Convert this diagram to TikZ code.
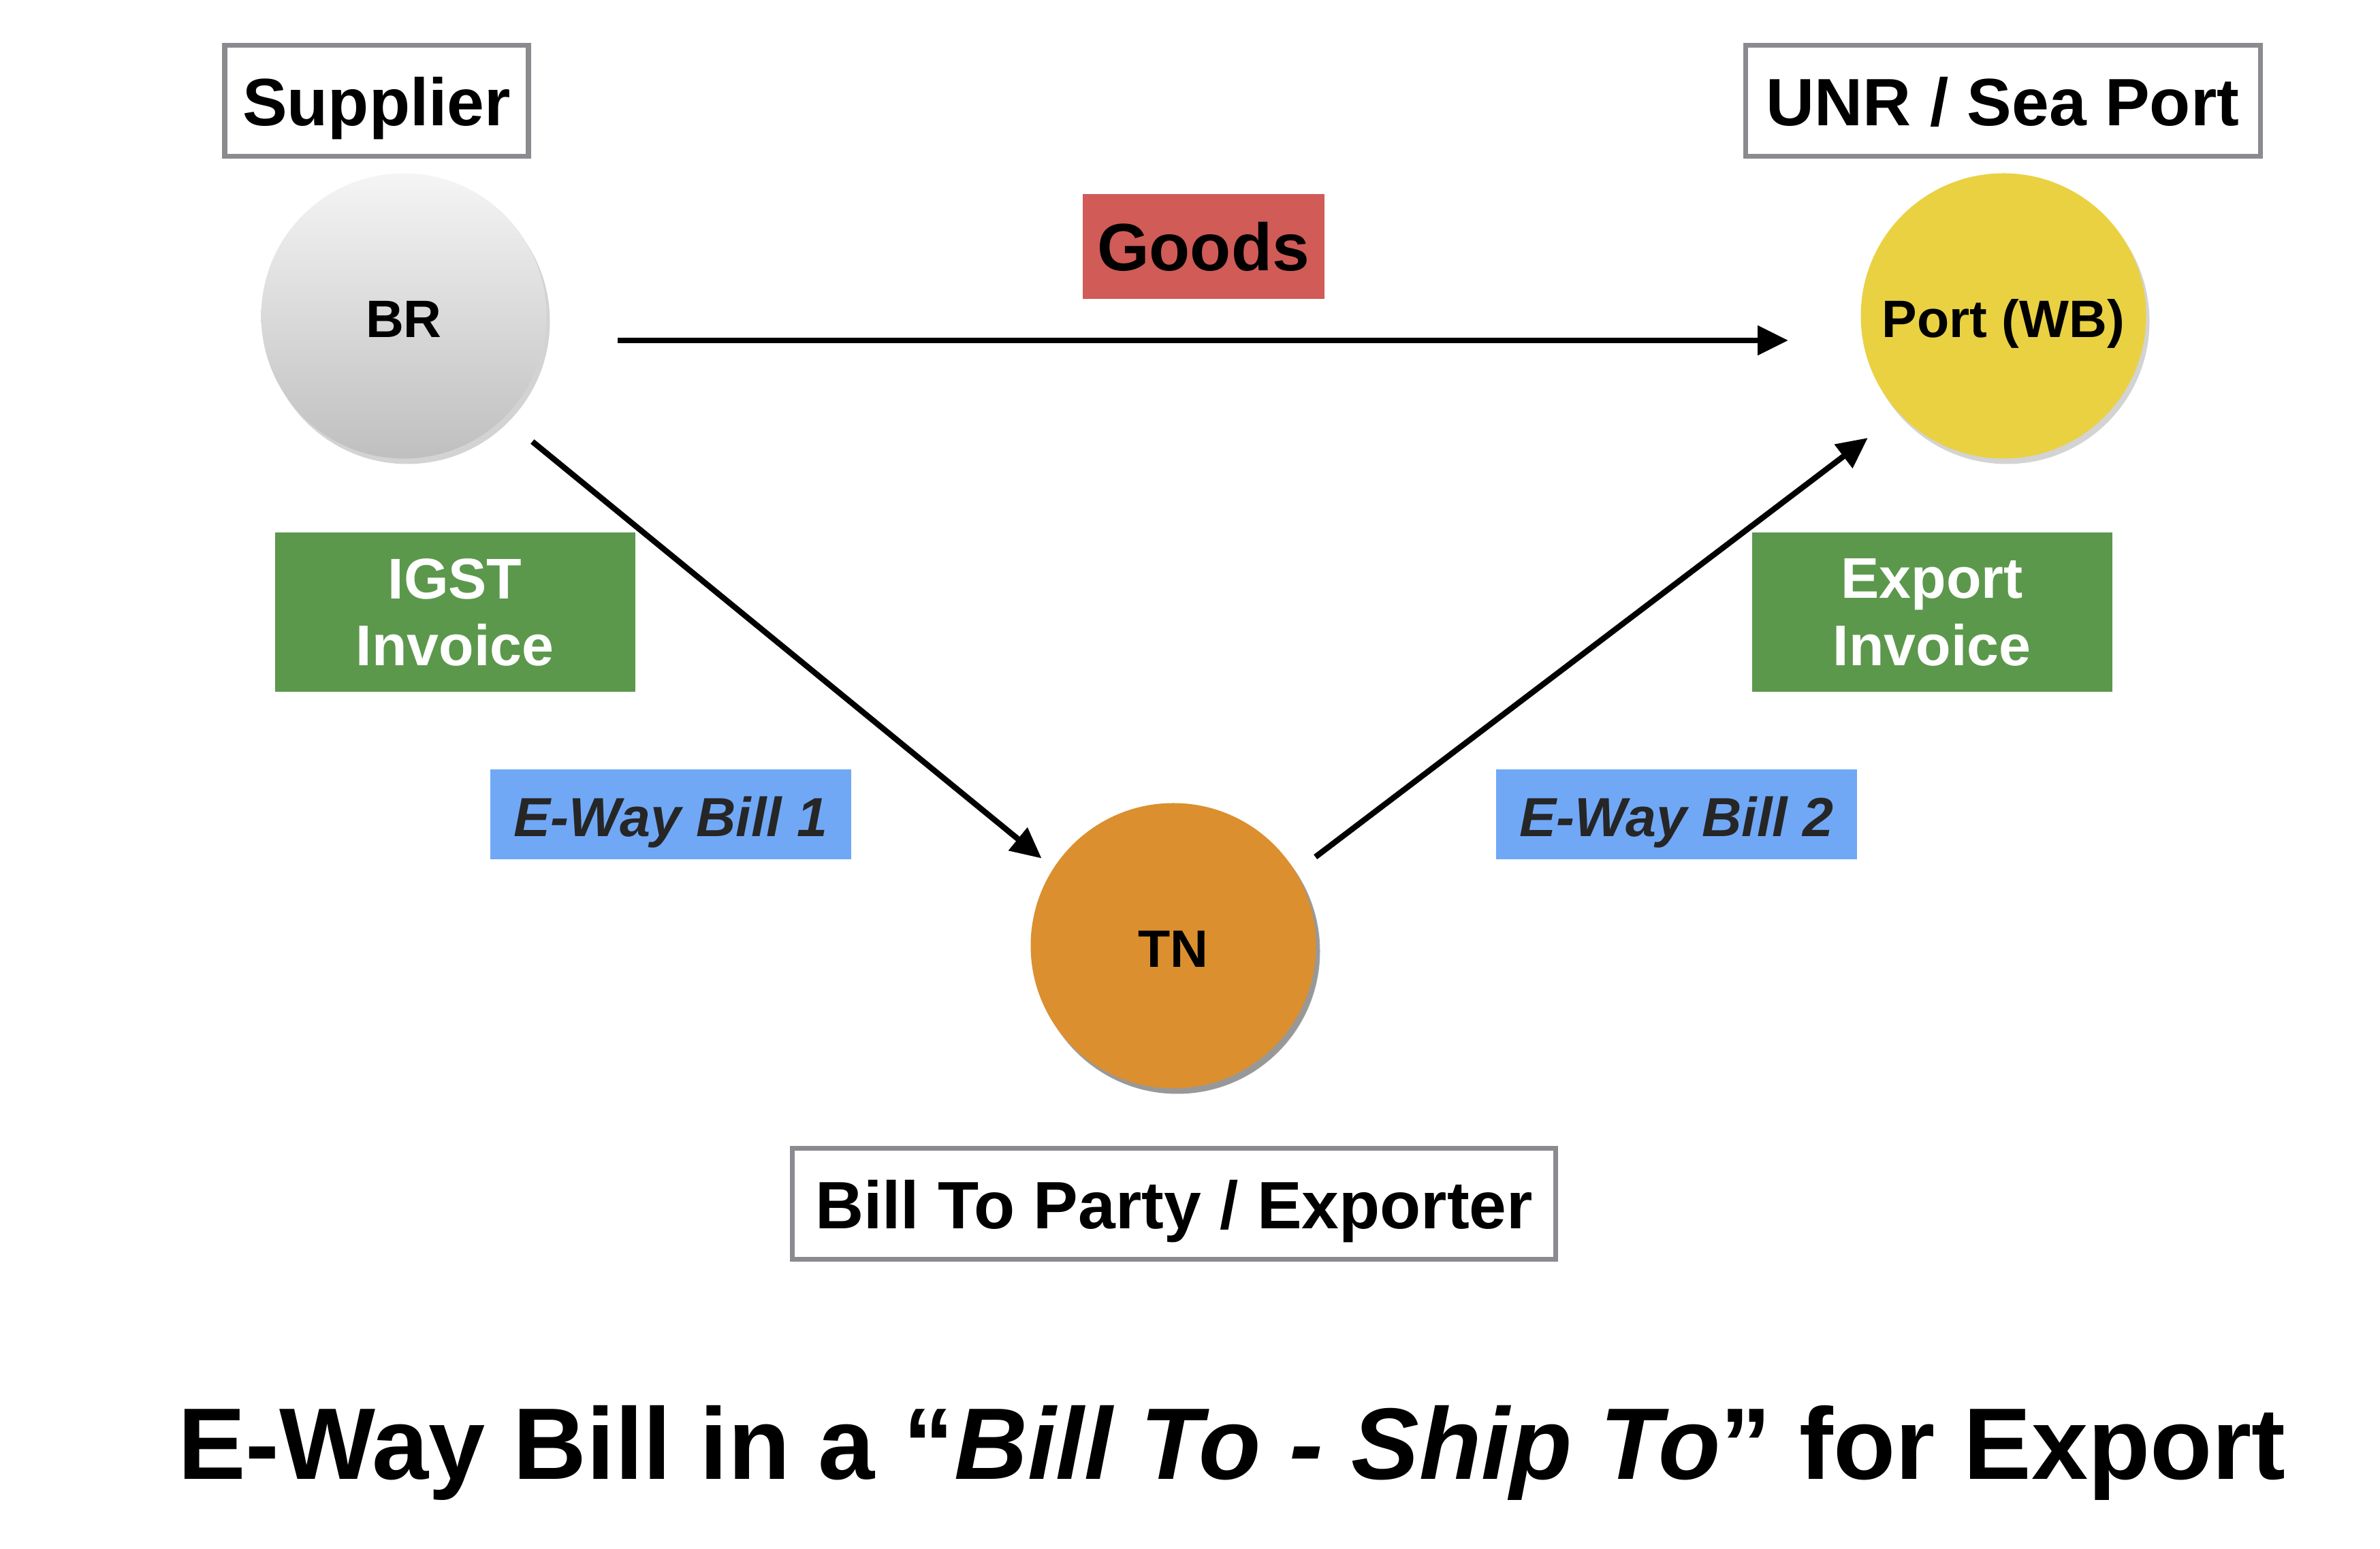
\documentclass[tikz,border=0pt]{standalone}
\usepackage{fontspec}
\setmainfont{Liberation Sans}
\usetikzlibrary{arrows.meta,shadows}

\definecolor{framegray}{RGB}{139,139,143}
\definecolor{goodsred}{RGB}{208,91,87}
\definecolor{invgreen}{RGB}{91,152,76}
\definecolor{billblue}{RGB}{112,168,246}
\definecolor{tnorange}{RGB}{219,143,47}
\definecolor{portyellow}{RGB}{233,209,66}

\tikzset{
  place/.style={draw=framegray, line width=2pt, fill=white, minimum height=1.63cm, inner sep=0pt,
    text height=25.2pt, text depth=4.5pt, font=\fontsize{28}{34}\selectfont\bfseries},
  state/.style={circle, minimum size=4.19cm, inner sep=0pt, text height=18.5pt, text depth=0.5pt,
    font=\fontsize{22}{26}\selectfont\bfseries,
    drop shadow={shadow xshift=0.05cm, shadow yshift=-0.08cm, opacity=0.35}},
  invoice/.style={fill=invgreen, text=white, minimum width=5.29cm, minimum height=2.34cm, inner sep=0pt,
    align=center, text depth=0pt, font=\fontsize{24}{28}\selectfont\bfseries},
  ewb/.style={fill=billblue, text=black!85, minimum width=5.3cm, minimum height=1.32cm, inner sep=0pt,
    text height=21.9pt, text depth=3.5pt, font=\fontsize{23}{28}\selectfont\bfseries\itshape},
  flow/.style={line width=2.4pt, -{Triangle[length=0.45cm,width=0.42cm]}}
}

\begin{document}
\begin{tikzpicture}
\useasboundingbox (0,0) rectangle (34.95,22.75);

\node[place, minimum width=4.46cm] (supplier) at (5.53,21.27) {Supplier};
\node[place, minimum width=7.56cm] (seaport) at (29.41,21.27) {UNR / Sea Port};
\node[place, minimum width=11.21cm] (exporter) at (17.24,5.07) {Bill To Party / Exporter};

\node[state, top color=gray!8, bottom color=gray!50] (BR) at (5.93,18.11) {BR};
\node[state, fill=portyellow] (WB) at (29.42,18.11) {Port (WB)};
\node[state, fill=tnorange, drop shadow={shadow xshift=0.06cm, shadow yshift=-0.08cm, opacity=0.7}] (TN) at (17.23,8.86) {TN};

\node[fill=goodsred, minimum width=3.55cm, minimum height=1.54cm, inner sep=0pt,
  font=\fontsize{28}{34}\selectfont\bfseries] (goods) at (17.67,19.13) {Goods};

\node[invoice] (igst) at (6.68,13.76) {IGST\\Invoice};
\node[invoice] (export) at (28.37,13.76) {Export\\Invoice};

\node[ewb] (ewb1) at (9.85,10.79) {E-Way Bill 1};
\node[ewb] (ewb2) at (24.62,10.79) {E-Way Bill 2};

\draw[flow, shorten <=3.14cm, shorten >=3.16cm] ([yshift=-3.6mm]BR.center) -- ([yshift=-3.6mm]WB.center);
\draw[flow, shorten <=2.44cm, shorten >=2.5cm] ([yshift=-3mm]BR.center) -- ([yshift=-3mm]TN.center);
\draw[flow, shorten <=2.62cm, shorten >=2.5cm] ([yshift=-2.8mm]TN.center) -- ([yshift=-2.8mm]WB.center);

\node[anchor=base, font=\fontsize{42.5}{50}\selectfont\bfseries] (title) at (18.09,1.02)
  {E-Way Bill in a ``\textit{Bill To - Ship To}'' for Export};

\end{tikzpicture}
\end{document}
